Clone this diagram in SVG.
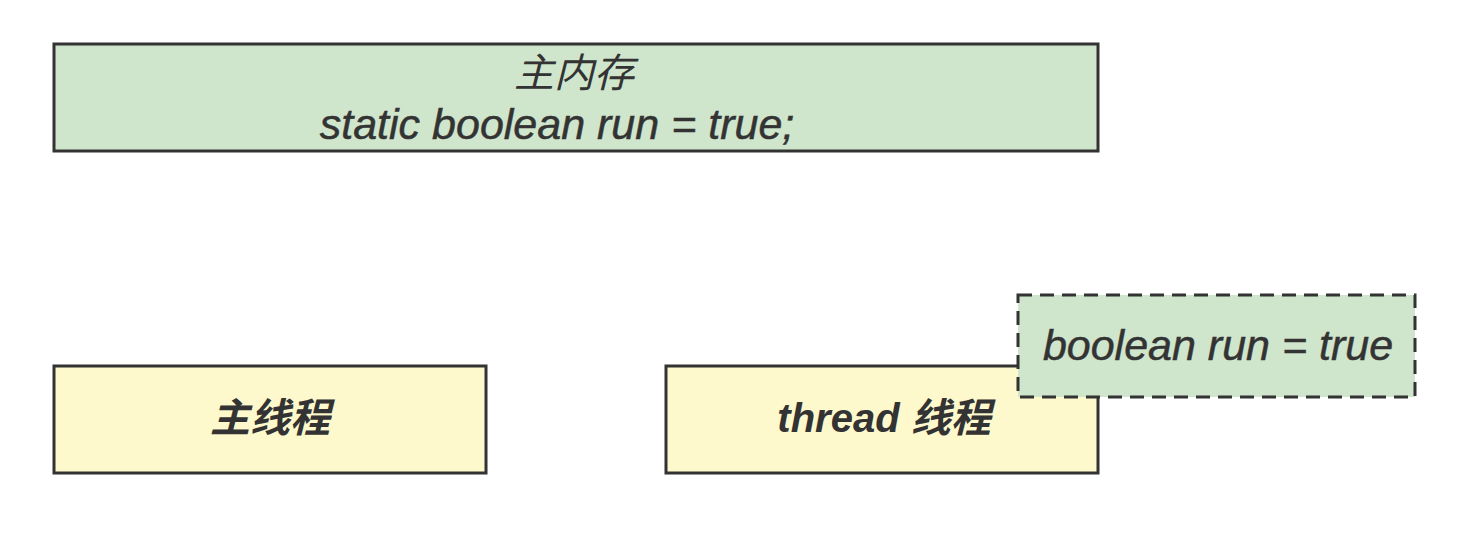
<svg xmlns="http://www.w3.org/2000/svg" width="1472" height="546" viewBox="0 0 1472 546">
<style>
.box{stroke:#333;stroke-width:3}
.green{fill:#cfe5cc}
.yellow{fill:#fdf9cc}
.dash{stroke-dasharray:14 8}
text{font-family:"Liberation Sans","Noto Sans CJK SC",sans-serif;font-style:italic;fill:#333;text-anchor:middle;font-size:40px}
.lat{font-size:43px;stroke:#333;stroke-width:0.5}
.b{font-weight:bold}
</style>
<rect width="1472" height="546" fill="#fff"/>
<g id="main-memory">
<rect class="box green" x="54" y="44" width="1044" height="107"/>
<text x="574" y="87">主内存</text>
<text class="lat" x="557" y="139">static boolean run = true;</text>
</g>
<g id="main-thread">
<rect class="box yellow" x="54" y="366" width="432" height="107"/>
<text class="b" x="270" y="432">主线程</text>
</g>
<g id="thread">
<rect class="box yellow" x="666" y="366" width="432" height="107"/>
<text class="b" x="884" y="432">thread 线程</text>
</g>
<g id="local-copy">
<rect class="box green dash" x="1018" y="295" width="397" height="102"/>
<text class="lat" x="1218" y="360">boolean run = true</text>
</g>
<g id="connectors"></g>
</svg>
